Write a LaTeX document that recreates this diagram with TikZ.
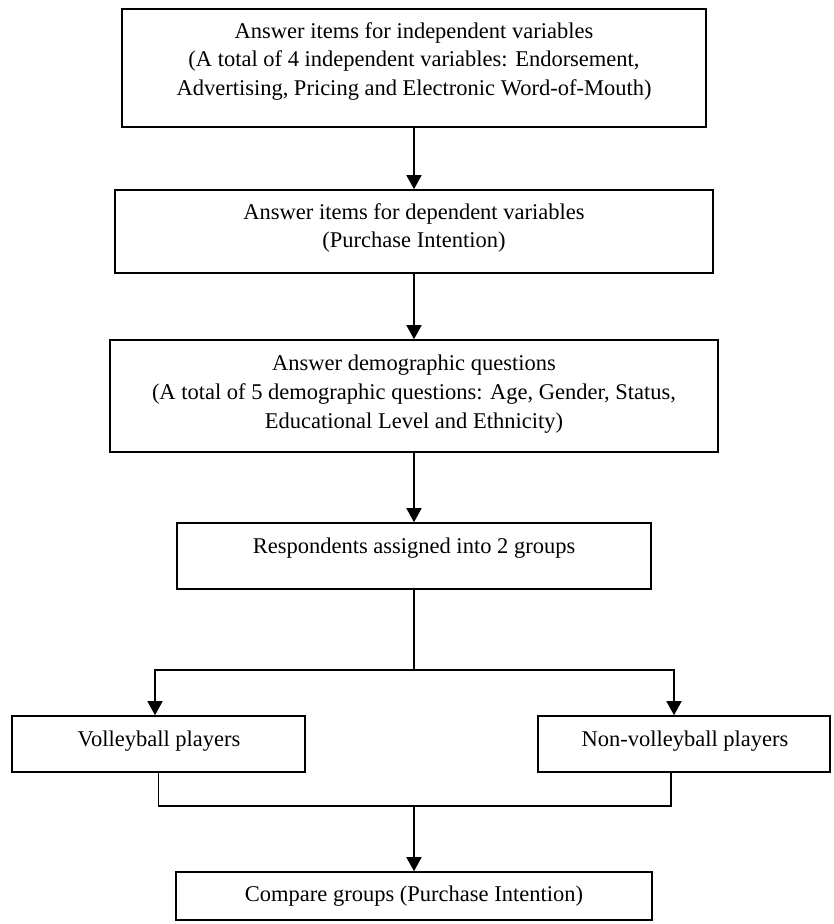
\documentclass[tikz,border=0pt]{standalone}
\usepackage{fontspec}
\setmainfont{Liberation Serif}
\usetikzlibrary{arrows.meta}
\begin{document}
\begin{tikzpicture}[x=1pt,y=-1pt,
  box/.style={draw=black,line width=1.6pt,rectangle,inner sep=0pt},
  txt/.style={align=center,inner sep=0pt,font=\fontsize{22.5}{28.7}\selectfont},
  conn/.style={draw=black,line width=1.6pt},
  arr/.style={conn,-{Triangle[width=15pt,length=14pt]}}]
\useasboundingbox (0,0) rectangle (834,924);
% boxes
\node[box,minimum width=584pt,minimum height=118pt] (b1) at (414,68) {};
\node[box,minimum width=598pt,minimum height=83pt] (b2) at (414,231.5) {};
\node[box,minimum width=608pt,minimum height=112pt] (b3) at (414,396) {};
\node[box,minimum width=474pt,minimum height=66pt] (b4) at (414,556) {};
\node[box,minimum width=293pt,minimum height=56pt] (b5) at (158.5,744) {};
\node[box,minimum width=292pt,minimum height=56pt] (b6) at (684,744) {};
\node[box,minimum width=476pt,minimum height=48pt] (b7) at (414,896) {};
% texts
\node[txt] (t1) at (414,61.5) {Answer items for independent variables\\(A total of 4 independent variables: Endorsement,\\Advertising, Pricing and Electronic Word-of-Mouth)};
\node[txt] (t2) at (414,228) {Answer items for dependent variables\\(Purchase Intention)};
\node[txt] (t3) at (414,394) {Answer demographic questions\\(A total of 5 demographic questions: Age, Gender, Status,\\Educational Level and Ethnicity)};
\node[txt] (t4) at (414,548) {Respondents assigned into 2 groups};
\node[txt] (t5) at (159,741) {Volleyball players};
\node[txt] (t6) at (685,741) {Non-volleyball players};
\node[txt] (t7) at (414,896) {Compare groups (Purchase Intention)};
% junctions
\coordinate (j1) at (414,670);
\coordinate (j2) at (414,806);
% connectors
\draw[arr] (b1.south) -- (b2.north);
\draw[arr] (b2.south) -- (b3.north);
\draw[arr] (b3.south) -- (b4.north);
\draw[conn] (b4.south) -- (j1);
\draw[arr] (j1) -| ([xshift=-3.5pt]b5.north);
\draw[arr] (j1) -| ([xshift=-10pt]b6.north);
\draw[conn] (b5.south) |- (j2) -| ([xshift=-13pt]b6.south);
\draw[arr] (j2) -- (b7.north);
\end{tikzpicture}
\end{document}
